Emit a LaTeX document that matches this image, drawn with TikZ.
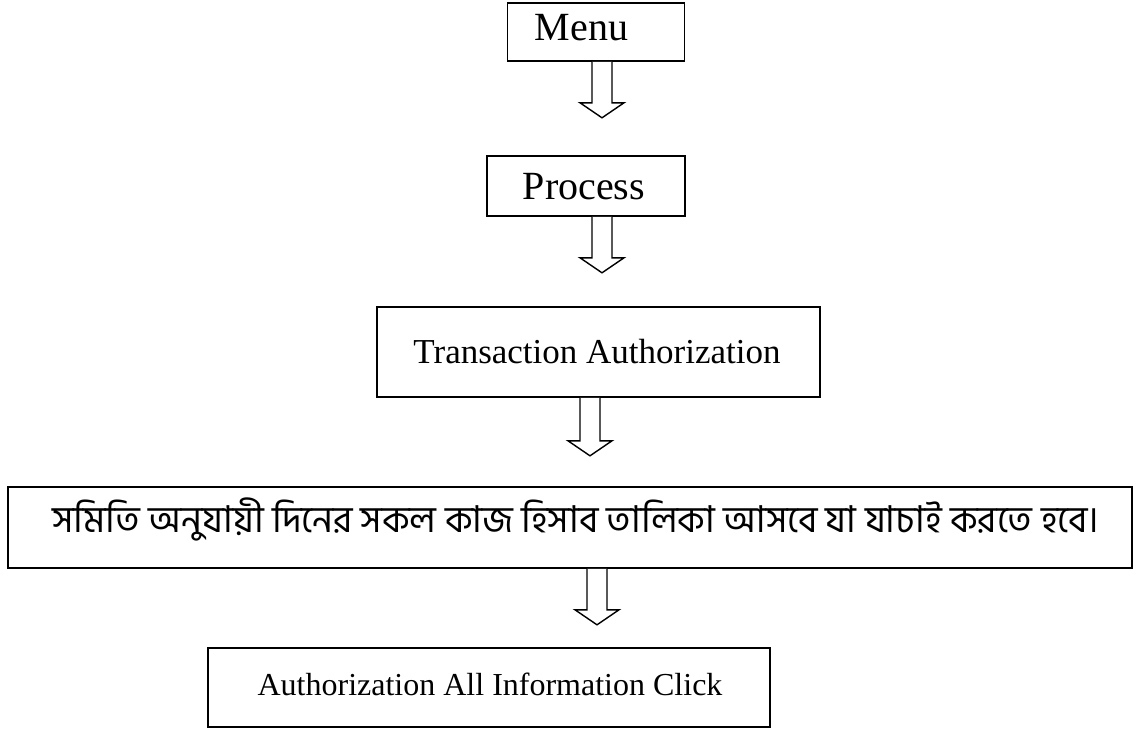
\documentclass[tikz,border=0pt]{standalone}
\usepackage{fontspec}
\setmainfont{Liberation Serif}
\newfontfamily\bn[Script=Bengali]{Hind Siliguri}
\usetikzlibrary{calc}
\tikzset{
  box/.style={draw, line width=1.6pt, rectangle, inner sep=0pt},
  lbl/.style={inner sep=0pt, font=\fontsize{35}{40}\selectfont},
  biglbl/.style={inner sep=0pt, font=\fontsize{40}{46}\selectfont},
  smalllbl/.style={inner sep=0pt, font=\fontsize{32}{38}\selectfont},
  bnlbl/.style={inner sep=0pt, font=\bn\fontsize{37}{44}\selectfont},
  harrow/.style={draw, line width=1.4pt, fill=white, line join=miter}
}
\begin{document}
\begin{tikzpicture}[x=1pt,y=-1pt]
\useasboundingbox (0,0) rectangle (1142,731);
% boxes
\node[box, minimum width=177pt, minimum height=58pt] (menu) at (596,32) {};
\node[biglbl] (menut) at (581.5,28) {Menu};
\node[box, minimum width=198pt, minimum height=60pt] (proc) at (586,186) {};
\node[biglbl] (proct) at (584,187) {Process};
\node[box, minimum width=443pt, minimum height=90pt] (trans) at (598.5,352) {};
\node[lbl] (transt) at (597,352) {Transaction Authorization};
\node[box, minimum width=1124pt, minimum height=81pt] (bengali) at (570,527.5) {};
\node[bnlbl] (bengalit) at (576,519) {সমিতি অনুযায়ী দিনের সকল কাজ হিসাব তালিকা আসবে যা যাচাই করতে হবে।};
\node[box, minimum width=562pt, minimum height=79pt] (auth) at (489,687.5) {};
\node[smalllbl] (autht) at (490,684) {Authorization All Information Click};
% arrows
\draw[harrow] ($(menu.south)+(-4,0)$) -- ($(menu.south)+(-4,41)$) -- ($(menu.south)+(-16,41)$) -- ($(menu.south)+(6,56)$) -- ($(menu.south)+(28,41)$) -- ($(menu.south)+(16,41)$) -- ($(menu.south)+(16,0)$);
\draw[harrow] ($(proc.south)+(6,0)$) -- ($(proc.south)+(6,41)$) -- ($(proc.south)+(-6,41)$) -- ($(proc.south)+(16,56)$) -- ($(proc.south)+(38,41)$) -- ($(proc.south)+(26,41)$) -- ($(proc.south)+(26,0)$);
\draw[harrow] ($(trans.south)+(-18.5,0)$) -- ($(trans.south)+(-18.5,43)$) -- ($(trans.south)+(-30.5,43)$) -- ($(trans.south)+(-8.5,58)$) -- ($(trans.south)+(13.5,43)$) -- ($(trans.south)+(1.5,43)$) -- ($(trans.south)+(1.5,0)$);
\draw[harrow] ($(bengali.south)+(17,0)$) -- ($(bengali.south)+(17,41)$) -- ($(bengali.south)+(5,41)$) -- ($(bengali.south)+(27,56)$) -- ($(bengali.south)+(49,41)$) -- ($(bengali.south)+(37,41)$) -- ($(bengali.south)+(37,0)$);
\end{tikzpicture}
\end{document}
